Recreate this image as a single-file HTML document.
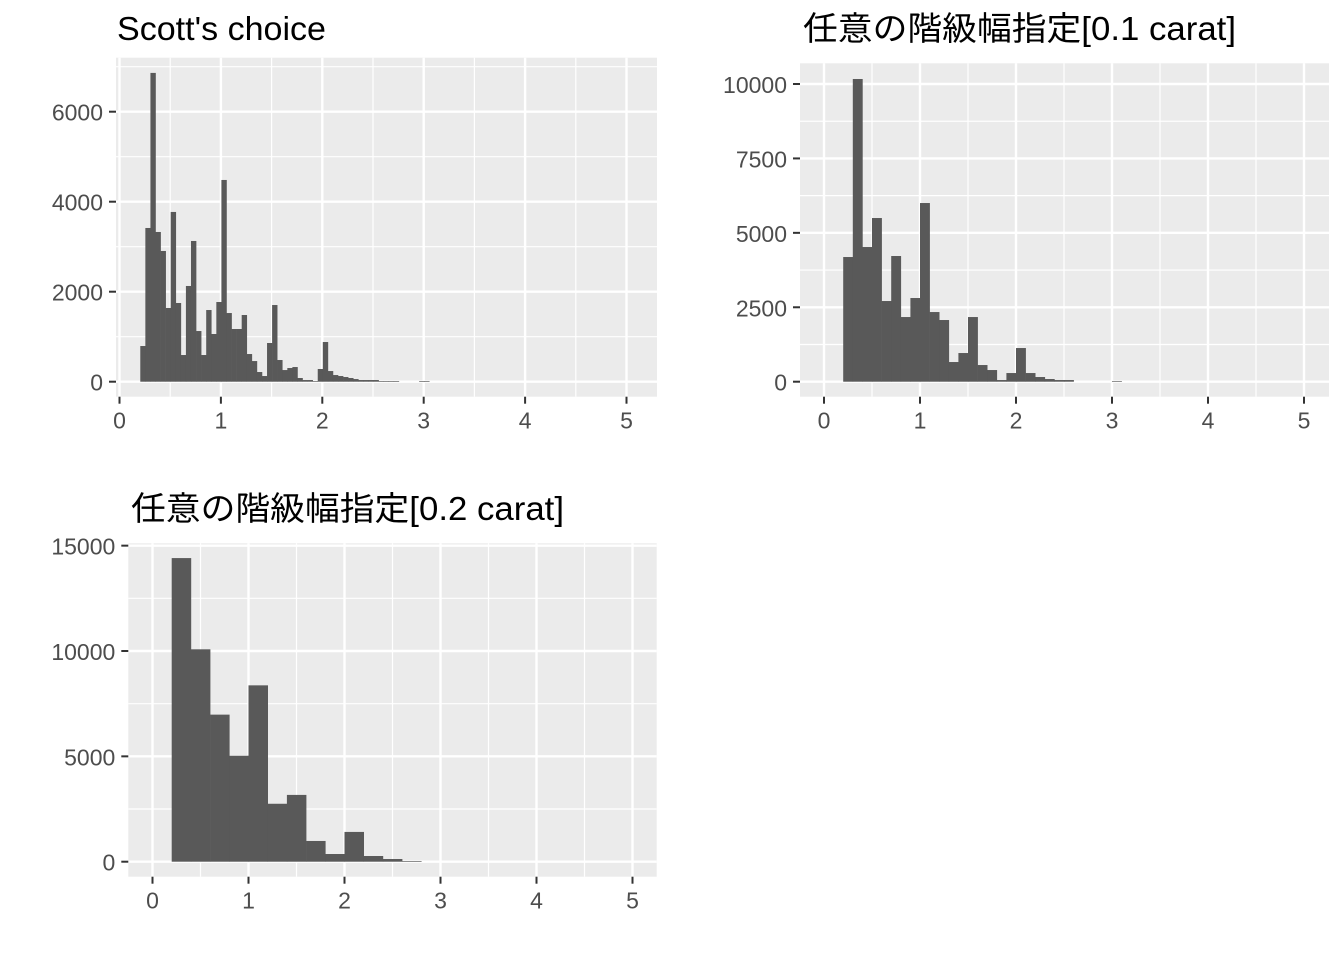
<!DOCTYPE html>
<html><head><meta charset="utf-8">
<style>
html,body{margin:0;padding:0;background:#fff;}
svg{display:block;}
text{font-family:"Liberation Sans","Noto Sans CJK JP",sans-serif;}
</style></head>
<body>
<svg id="chart" width="1344" height="960" viewBox="0 0 1344 960" xmlns="http://www.w3.org/2000/svg">
<rect x="0" y="0" width="1344" height="960" fill="#fff"/>
</svg>
<script>
// ---- data ----
const scottCounts = [793,3416,6862,3327,2905,1638,3772,1749,593,2127,3127,1126,593,1593,1060,1771,4483,1526,1171,1171,1482,615,459,215,126,860,1704,482,259,304,326,82,37,37,15,282,882,237,148,126,104,82,59,37,37,37,37,15,15,15,15,0,0,0,0,15,15];
const scottBinStart = 0.205;
const scottBinWidth = 0.05;
const scottYTicks = [0,2000,4000,6000];
const bin01Counts = [4188,10168,4524,5498,2710,4222,2172,2811,6002,2340,2072,661,963,2172,560,392,56,291,1131,291,157,90,56,56,0,0,0,0,22];
const bin01Start = 0.2;
const bin01Width = 0.1;
const bin01YTicks = [0,2500,5000,7500,10000];
const bin02Counts = [14410,10080,6980,5030,8370,2750,3170,984,365,1413,270,127,32];
const bin02Start = 0.2;
const bin02Width = 0.2;
const bin02YTicks = [0,5000,10000,15000];
const xTicks = [0,1,2,3,4,5];
const titles = ["Scott's choice","任意の階級幅指定[0.1 carat]","任意の階級幅指定[0.2 carat]"];

const NS = "http://www.w3.org/2000/svg";
const svg = document.getElementById('chart');
function mk(tag, attrs, parent){
  const e = document.createElementNS(NS, tag);
  for (const k in attrs) e.setAttribute(k, attrs[k]);
  (parent||svg).appendChild(e);
  return e;
}

function drawPanel(p){
  const g = mk('g', {});
  
  
  const xs = v => p.x0 + v * p.xk;
  const ys = v => p.y0 - v * p.yk;
  const bg = mk('rect', {x:p.left, y:p.top, width:p.right-p.left, height:p.bottom-p.top, fill:'#EBEBEB'}, g);
  
  
  for (let i = 0; i < xTicks.length + 1; i++) {
    const v = xTicks[0] - 0.5 + i;
    const px = xs(v);
    if (px > p.left && px < p.right) mk('line', {x1:px, x2:px, y1:p.top, y2:p.bottom, stroke:'#fff', 'stroke-width':1.2}, g);
  }
  const yStep = p.yTicks[1] - p.yTicks[0];
  for (let i = -1; i < p.yTicks.length + 1; i++) {
    const v = p.yTicks[0] + yStep * (i + 0.5);
    const py = ys(v);
    if (py > p.top && py < p.bottom) mk('line', {x1:p.left, x2:p.right, y1:py, y2:py, stroke:'#fff', 'stroke-width':1.2}, g);
  }
  xTicks.forEach(v => { const px = xs(v); mk('line', {x1:px, x2:px, y1:p.top, y2:p.bottom, stroke:'#fff', 'stroke-width':2.4}, g); });
  p.yTicks.forEach(v => { const py = ys(v); mk('line', {x1:p.left, x2:p.right, y1:py, y2:py, stroke:'#fff', 'stroke-width':2.4}, g); });
  p.counts.forEach((c, i) => {
    if (c <= 0) return;
    const xa = xs(p.binStart + i * p.binWidth), xb = xs(p.binStart + (i + 1) * p.binWidth);
    const r = mk('rect', {x:xa, y:ys(c), width:xb - xa + 0.3, height:ys(0) - ys(c), fill:'#595959'}, g);
    
    
  });
  xTicks.forEach(v => {
    const px = xs(v);
    mk('line', {x1:px, x2:px, y1:p.bottom, y2:p.bottom + 7, stroke:'#333', 'stroke-width':2}, g);
    const t = mk('text', {x:px, y:p.bottom + 32, 'text-anchor':'middle', 'font-size':23, fill:'#4D4D4D'}, g);
    t.textContent = v;
    
    
  });
  p.yTicks.forEach(v => {
    const py = ys(v);
    mk('line', {x1:p.left - 7, x2:p.left, y1:py, y2:py, stroke:'#333', 'stroke-width':2}, g);
    const t = mk('text', {x:p.left - 13, y:py + 9, 'text-anchor':'end', 'font-size':23, fill:'#4D4D4D'}, g);
    t.textContent = v;
    
    
  });
  const tt = mk('text', {x:p.titleX, y:p.titleY, 'font-size':33, fill:'#000', textLength:p.titleW, lengthAdjust:'spacingAndGlyphs'}, g);
  tt.textContent = p.title;
  
  
}

drawPanel({name:'scott-histogram', left:116, right:657, top:57.7, bottom:396.7, x0:119.5, xk:101.4, y0:381.7, yk:0.045,
  counts:scottCounts, binStart:scottBinStart, binWidth:scottBinWidth, yTicks:scottYTicks,
  title:titles[0], titleX:117, titleY:40, titleW:209});
drawPanel({name:'bin-0-1-histogram', left:800, right:1329, top:63.3, bottom:396.7, x0:824, xk:96, y0:381.7, yk:0.02977,
  counts:bin01Counts, binStart:bin01Start, binWidth:bin01Width, yTicks:bin01YTicks,
  title:titles[1], titleX:803, titleY:40, titleW:433});
drawPanel({name:'bin-0-2-histogram', left:128.3, right:656.7, top:543.3, bottom:876.7, x0:152.5, xk:96, y0:861.7, yk:0.02107,
  counts:bin02Counts, binStart:bin02Start, binWidth:bin02Width, yTicks:bin02YTicks,
  title:titles[2], titleX:131, titleY:520, titleW:433});
</script>
</body></html>
